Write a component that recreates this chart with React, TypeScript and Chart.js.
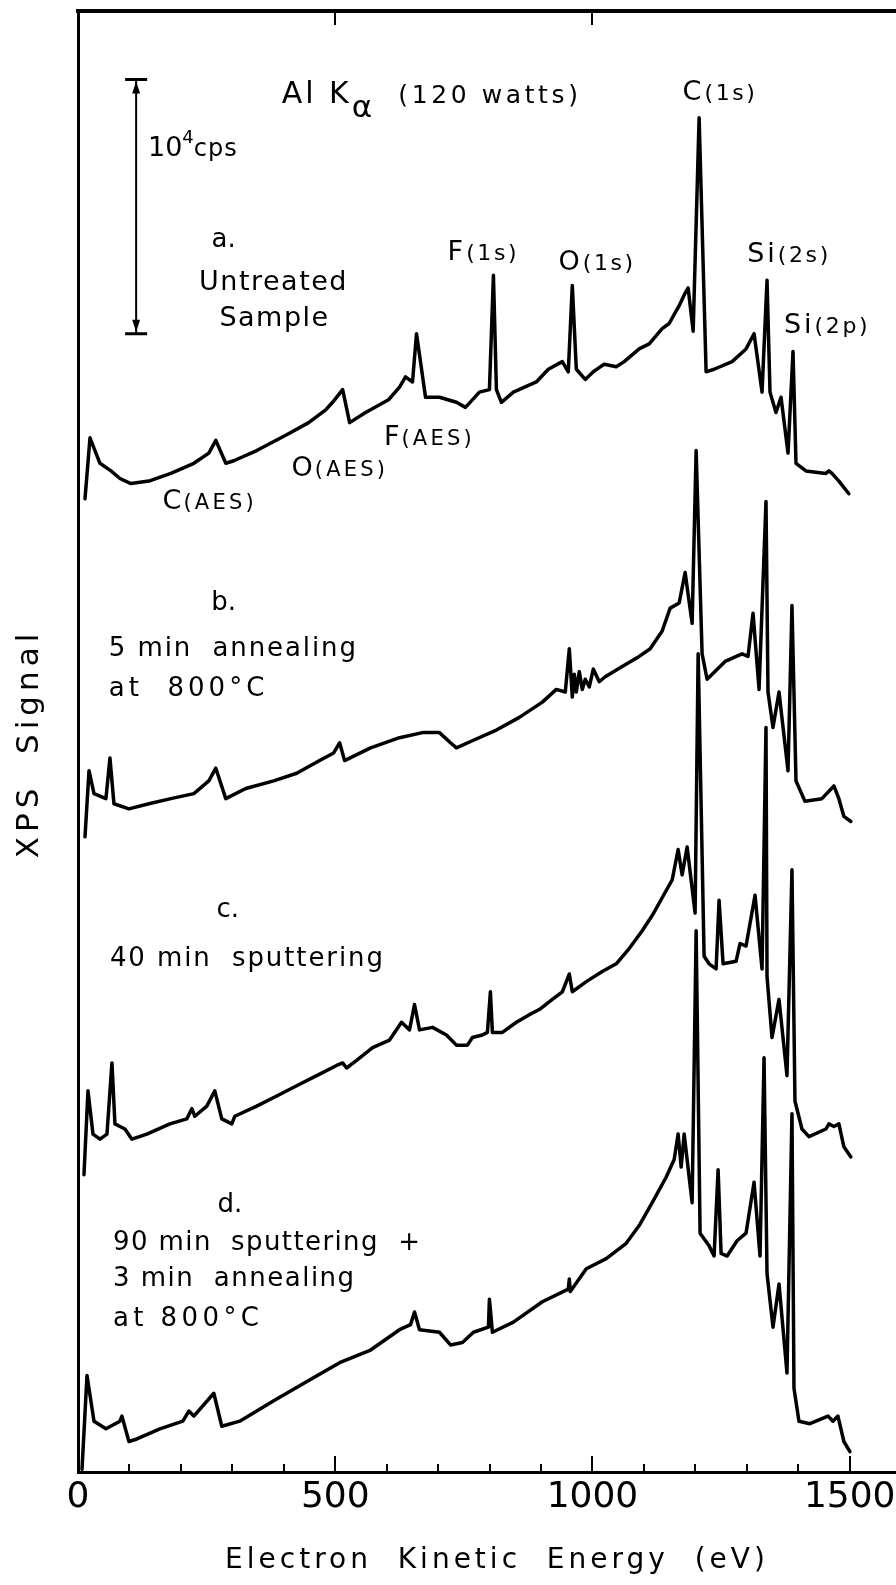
import { useEffect, useRef } from 'react';
import { Chart, registerables } from 'chart.js';

Chart.register(...registerables);

const FONT = '"DejaVu Sans", "Liberation Sans", sans-serif';

// Electron kinetic energy (eV) vs XPS signal (10^3 cps, spectra shown stacked)
const spectrumA: [number, number][] = [
  [13.6, 38.3], [23.3, 40.7], [42.7, 39.7], [64.1, 39.4], [81.5, 39.1], [102.9, 38.9], [137.8, 39.0],
  [180.5, 39.3], [225.2, 39.7], [254.3, 40.1], [267.9, 40.6], [287.3, 39.7], [302.8, 39.8], [347.4, 40.2],
  [403.7, 40.8], [448.4, 41.3], [481.4, 41.8], [494.9, 42.1], [514.4, 42.6], [528.0, 41.3], [559.0, 41.7],
  [603.6, 42.2], [625.0, 42.7], [636.6, 43.1], [650.2, 42.9], [658.0, 44.8], [675.5, 42.3], [702.6, 42.3],
  [735.6, 42.1], [753.1, 41.9], [780.3, 42.5], [799.7, 42.6], [807.5, 47.1], [813.3, 42.6], [823.0, 42.1],
  [846.3, 42.5], [890.9, 42.9], [914.2, 43.4], [941.4, 43.7], [953.0, 43.3], [960.8, 46.7], [968.6, 43.4],
  [986.0, 43.0], [1001.6, 43.3], [1022.9, 43.6], [1046.2, 43.5], [1061.7, 43.7], [1090.8, 44.2], [1110.3, 44.4],
  [1135.5, 45.0], [1149.1, 45.2], [1162.7, 45.7], [1168.5, 45.9], [1180.1, 46.4], [1186.0, 46.6], [1195.7, 44.9],
  [1207.3, 53.3], [1220.9, 43.3], [1236.4, 43.4], [1271.4, 43.7], [1298.5, 44.2], [1314.1, 44.8], [1329.6, 42.5],
  [1339.3, 46.9], [1345.1, 42.5], [1356.7, 41.7], [1366.5, 42.3], [1380.1, 40.1], [1389.8, 44.1], [1395.6, 39.7],
  [1415.0, 39.4], [1453.8, 39.3], [1459.6, 39.4], [1465.5, 39.3], [1479.0, 39.0], [1498.4, 38.5],
];

const spectrumB: [number, number][] = [
  [13.6, 25.0], [21.4, 27.6], [31.1, 26.7], [54.3, 26.5], [62.1, 28.1], [69.9, 26.3], [99.0, 26.1],
  [137.8, 26.3], [180.5, 26.5], [225.2, 26.7], [254.3, 27.2], [267.9, 27.7], [287.3, 26.5], [326.1, 26.9],
  [380.4, 27.2], [425.1, 27.5], [469.7, 28.0], [496.9, 28.3], [508.5, 28.7], [518.2, 28.0], [568.7, 28.5],
  [625.0, 28.9], [669.6, 29.1], [702.6, 29.1], [724.0, 28.7], [735.6, 28.5], [768.6, 28.8], [813.3, 29.2],
  [857.9, 29.7], [902.6, 30.3], [929.7, 30.8], [947.2, 30.7], [955.0, 32.4], [960.8, 30.5], [964.7, 31.4],
  [968.6, 30.7], [974.4, 31.5], [980.2, 30.8], [986.0, 31.2], [993.8, 30.9], [1001.6, 31.6], [1013.2, 31.1],
  [1024.8, 31.3], [1057.8, 31.7], [1090.8, 32.1], [1112.2, 32.4], [1135.5, 33.1], [1151.0, 34.0], [1168.5, 34.2],
  [1180.1, 35.4], [1193.7, 33.4], [1201.5, 40.2], [1213.1, 32.2], [1222.8, 31.2], [1257.8, 31.9], [1290.8, 32.2],
  [1302.4, 32.1], [1312.1, 33.8], [1323.8, 30.8], [1337.3, 38.2], [1341.2, 30.7], [1350.9, 29.3], [1362.6, 30.7],
  [1380.1, 27.6], [1387.8, 34.1], [1395.6, 27.2], [1413.0, 26.4], [1446.0, 26.5], [1469.3, 27.0], [1479.0, 26.5],
  [1488.7, 25.8], [1502.3, 25.6],
];

const spectrumC: [number, number][] = [
  [11.6, 11.7], [19.4, 15.0], [29.1, 13.3], [42.7, 13.1], [56.3, 13.3], [66.0, 16.1], [71.8, 13.7],
  [81.5, 13.6], [91.2, 13.5], [104.8, 13.1], [133.9, 13.3], [178.6, 13.7], [211.6, 13.9], [221.3, 14.3],
  [227.1, 14.0], [250.4, 14.4], [265.9, 15.0], [279.5, 13.9], [298.9, 13.7], [304.7, 14.0], [347.4, 14.4],
  [386.3, 14.8], [425.1, 15.2], [463.9, 15.6], [502.7, 16.0], [514.4, 16.1], [522.1, 15.9], [541.5, 16.2],
  [572.6, 16.7], [605.6, 17.0], [628.9, 17.7], [644.4, 17.4], [654.1, 18.4], [663.8, 17.4], [689.1, 17.5],
  [716.2, 17.2], [735.6, 16.8], [757.0, 16.8], [766.7, 17.1], [786.1, 17.2], [795.8, 17.3], [801.6, 18.9],
  [805.5, 17.3], [824.9, 17.3], [852.1, 17.7], [877.3, 18.0], [896.7, 18.2], [922.0, 18.6], [941.4, 18.9],
  [955.0, 19.6], [960.8, 18.9], [988.0, 19.3], [1019.0, 19.7], [1046.2, 20.0], [1071.4, 20.6], [1096.7, 21.3],
  [1116.1, 21.9], [1135.5, 22.6], [1154.9, 23.3], [1166.5, 24.5], [1174.3, 23.5], [1184.0, 24.6], [1199.5, 22.0],
  [1205.4, 32.2], [1217.0, 20.3], [1226.7, 20.0], [1240.3, 19.8], [1246.1, 22.5], [1253.9, 20.0], [1279.1, 20.1],
  [1286.9, 20.8], [1298.5, 20.7], [1316.0, 22.7], [1329.6, 19.8], [1337.3, 29.3], [1339.3, 19.5], [1349.0, 17.1],
  [1362.6, 18.6], [1378.1, 15.6], [1387.8, 23.7], [1393.6, 14.6], [1407.2, 13.5], [1420.8, 13.2], [1453.8, 13.5],
  [1459.6, 13.7], [1469.3, 13.6], [1479.0, 13.7], [1488.7, 12.8], [1502.3, 12.4],
];

const spectrumD: [number, number][] = [
  [7.8, 0.1], [17.5, 3.8], [31.1, 2.0], [54.3, 1.7], [81.5, 2.0], [85.4, 2.2], [99.0, 1.2], [114.5, 1.3],
  [159.2, 1.7], [203.8, 2.0], [215.5, 2.4], [225.2, 2.2], [264.0, 3.1], [279.5, 1.8], [314.4, 2.0], [380.4, 2.8],
  [448.4, 3.6], [508.5, 4.3], [568.7, 4.8], [625.0, 5.6], [646.4, 5.8], [654.1, 6.3], [663.8, 5.6], [702.6, 5.5],
  [724.0, 5.0], [747.3, 5.1], [768.6, 5.5], [797.8, 5.7], [799.7, 6.8], [805.5, 5.5], [846.3, 5.9], [902.6, 6.7],
  [953.0, 7.2], [955.0, 7.6], [956.9, 7.1], [988.0, 8.0], [1026.8, 8.4], [1065.6, 9.0], [1090.8, 9.7],
  [1116.1, 10.6], [1143.2, 11.6], [1158.8, 12.3], [1166.5, 13.3], [1172.4, 12.0], [1178.2, 13.3], [1193.7, 10.6],
  [1201.5, 21.3], [1209.2, 9.4], [1226.7, 8.9], [1236.4, 8.5], [1244.2, 11.9], [1250.0, 8.6], [1261.7, 8.5],
  [1281.1, 9.1], [1298.5, 9.4], [1314.1, 11.4], [1325.7, 8.5], [1333.5, 16.3], [1339.3, 7.8], [1350.9, 5.7],
  [1362.6, 7.4], [1378.1, 3.9], [1387.8, 14.1], [1391.7, 3.3], [1401.4, 2.0], [1422.7, 1.9], [1457.7, 2.2],
  [1467.4, 2.0], [1477.1, 2.2], [1488.7, 1.2], [1500.4, 0.8],
];

// axis settings
const xMin = 0;
const xMax = 1590;
const xTickValues = [0, 100, 200, 300, 400, 500, 600, 700, 800, 900, 1000, 1100, 1200, 1300, 1400, 1500];
const xLabelledTicks = [0, 500, 1000, 1500];
const topTickValues = [500, 1000];
const yMin = 0;
const yMax = 57.5;

// scale bar: 10^4 cps drawn at this energy, from / to signal values
const scaleBar = { energy: 113, from: 44.8, to: 54.8 };

type Part = { t: string; s: number; dy?: number; ls?: number };
type Note = { x: number; y: number; align: 'left' | 'center'; parts: Part[] };

const peak = (big: string, small: string): Part[] => [
  { t: big, s: 27, ls: 3 },
  { t: small, s: 22, ls: 2.6 },
];
const aes = (big: string): Part[] => [
  { t: big, s: 27, ls: 2 },
  { t: '(AES)', s: 21, ls: 3.2 },
];

// text annotations anchored in data space (eV, 10^3 cps)
const notes: Note[] = [
  { x: 396, y: 54.3, align: 'left', parts: [{ t: 'Al K', s: 30, ls: 3 }, { t: 'α', s: 31, dy: 14, ls: 3 }, { t: '  (120 watts)', s: 25, ls: 3.6 }] },
  { x: 136, y: 52.2, align: 'left', parts: [{ t: '10', s: 27 }, { t: '4', s: 18, dy: -13 }, { t: 'cps', s: 24, ls: 1 }] },
  { x: 1248, y: 54.4, align: 'center', parts: peak('C', '(1s)') },
  { x: 283, y: 48.6, align: 'center', parts: [{ t: 'a.', s: 26 }] },
  { x: 380, y: 46.9, align: 'center', parts: [{ t: 'Untreated', s: 27, ls: 1.5 }] },
  { x: 382, y: 45.5, align: 'center', parts: [{ t: 'Sample', s: 27, ls: 1.5 }] },
  { x: 788, y: 48.1, align: 'center', parts: peak('F', '(1s)') },
  { x: 1009, y: 47.7, align: 'center', parts: peak('O', '(1s)') },
  { x: 1382, y: 48.0, align: 'center', parts: peak('Si', '(2s)') },
  { x: 1456, y: 45.2, align: 'center', parts: peak('Si', '(2p)') },
  { x: 683, y: 40.8, align: 'center', parts: aes('F') },
  { x: 509, y: 39.6, align: 'center', parts: aes('O') },
  { x: 256, y: 38.3, align: 'center', parts: aes('C') },
  { x: 283, y: 34.3, align: 'center', parts: [{ t: 'b.', s: 26 }] },
  { x: 60, y: 32.5, align: 'left', parts: [{ t: '5 min  annealing', s: 26, ls: 1.9 }] },
  { x: 60, y: 30.9, align: 'left', parts: [{ t: 'at  800°C', s: 26, ls: 4 }] },
  { x: 291, y: 22.2, align: 'center', parts: [{ t: 'c.', s: 26 }] },
  { x: 62, y: 20.3, align: 'left', parts: [{ t: '40 min  sputtering', s: 26, ls: 1.9 }] },
  { x: 295, y: 10.6, align: 'center', parts: [{ t: 'd.', s: 26 }] },
  { x: 68, y: 9.1, align: 'left', parts: [{ t: '90 min  sputtering  +', s: 26, ls: 1.4 }] },
  { x: 68, y: 7.7, align: 'left', parts: [{ t: '3 min  annealing', s: 26, ls: 1.5 }] },
  { x: 68, y: 6.1, align: 'left', parts: [{ t: 'at 800°C', s: 26, ls: 4.4 }] },
];

const xTitle = 'Electron  Kinetic  Energy  (eV)';
const yTitle = 'XPS  Signal';

function drawParts(ctx: CanvasRenderingContext2D, parts: Part[], x: number, yCenter: number, align: 'left' | 'center') {
  const widths = parts.map((p) => {
    ctx.font = `${p.s}px ${FONT}`;
    (ctx as any).letterSpacing = `${p.ls ?? 0}px`;
    return ctx.measureText(p.t).width;
  });
  const total = widths.reduce((a, b) => a + b, 0);
  let cx = align === 'center' ? x - total / 2 : x;
  const baseline = yCenter + 0.365 * parts[0].s;
  ctx.textAlign = 'left';
  ctx.textBaseline = 'alphabetic';
  parts.forEach((p, i) => {
    ctx.font = `${p.s}px ${FONT}`;
    (ctx as any).letterSpacing = `${p.ls ?? 0}px`;
    ctx.fillText(p.t, cx, baseline + (p.dy ?? 0));
    cx += widths[i];
  });
  (ctx as any).letterSpacing = '0px';
}

const decorPlugin = {
  id: 'decor',
  afterDraw(chart: any) {
    const { ctx, chartArea, scales } = chart;
    const xs = scales.x;
    const ys = scales.y;
    const xt = scales.x2;
    ctx.save();
    ctx.strokeStyle = '#000';
    ctx.fillStyle = '#000';
    ctx.lineCap = 'butt';

    // inward tick marks on the bottom axis
    ctx.lineWidth = 2;
    xs.ticks.forEach((t: any) => {
      const v = t.value;
      const px = Math.round(xs.getPixelForValue(v));
      const len = xLabelledTicks.includes(v) ? 16 : 8;
      ctx.beginPath();
      ctx.moveTo(px, chartArea.bottom);
      ctx.lineTo(px, chartArea.bottom - len);
      ctx.stroke();
    });
    // inward tick marks on the top border
    topTickValues.forEach((v) => {
      const px = Math.round(xt.getPixelForValue(v));
      ctx.beginPath();
      ctx.moveTo(px, chartArea.top);
      ctx.lineTo(px, chartArea.top + 14);
      ctx.stroke();
    });

    // 10^4 cps scale bar
    const bx = xs.getPixelForValue(scaleBar.energy);
    const bTop = ys.getPixelForValue(scaleBar.to);
    const bBot = ys.getPixelForValue(scaleBar.from);
    ctx.lineWidth = 2;
    ctx.beginPath();
    ctx.moveTo(bx, bTop);
    ctx.lineTo(bx, bBot);
    ctx.stroke();
    ctx.lineWidth = 3;
    ctx.beginPath();
    ctx.moveTo(bx - 11, bTop);
    ctx.lineTo(bx + 11, bTop);
    ctx.moveTo(bx - 11, bBot);
    ctx.lineTo(bx + 11, bBot);
    ctx.stroke();
    ctx.beginPath();
    ctx.moveTo(bx, bTop + 2);
    ctx.lineTo(bx - 4, bTop + 14);
    ctx.lineTo(bx + 4, bTop + 14);
    ctx.closePath();
    ctx.moveTo(bx, bBot - 2);
    ctx.lineTo(bx - 4, bBot - 14);
    ctx.lineTo(bx + 4, bBot - 14);
    ctx.closePath();
    ctx.fill();

    // annotations
    notes.forEach((n) => {
      drawParts(ctx, n.parts, xs.getPixelForValue(n.x), ys.getPixelForValue(n.y), n.align);
    });

    // axis titles
    ctx.font = `28px ${FONT}`;
    (ctx as any).letterSpacing = '4px';
    ctx.textAlign = 'center';
    ctx.textBaseline = 'alphabetic';
    ctx.fillText(xTitle, chartArea.left + 419, chartArea.bottom + 96);

    ctx.save();
    ctx.translate(chartArea.left - 51, (chartArea.top + chartArea.bottom) / 2 + 2);
    ctx.rotate(-Math.PI / 2);
    ctx.font = `31px ${FONT}`;
    (ctx as any).letterSpacing = '5px';
    ctx.textAlign = 'center';
    ctx.textBaseline = 'alphabetic';
    ctx.fillText(yTitle, 0, 11);
    ctx.restore();

    (ctx as any).letterSpacing = '0px';
    ctx.restore();
  },
};

export default function App() {
  const ref = useRef<HTMLCanvasElement>(null);

  useEffect(() => {
    document.body.style.margin = '0';
    const canvas = ref.current;
    if (!canvas) return;
    const toPts = (arr: [number, number][]) => arr.map(([x, y]) => ({ x, y }));
    const ds = (label: string, arr: [number, number][]) => ({
      label,
      data: toPts(arr),
      borderColor: '#000',
      borderWidth: 3.5,
      pointRadius: 0,
      tension: 0,
      fill: false,
      borderJoinStyle: 'round' as const,
      borderCapStyle: 'round' as const,
      clip: false as any,
    });

    const chart = new Chart(canvas, {
      type: 'line',
      data: {
        datasets: [
          ds('a. Untreated Sample', spectrumA),
          ds('b. 5 min annealing at 800°C', spectrumB),
          ds('c. 40 min sputtering', spectrumC),
          ds('d. 90 min sputtering + 3 min annealing at 800°C', spectrumD),
        ],
      },
      options: {
        animation: false,
        responsive: false,
        devicePixelRatio: 1,
        layout: { padding: 0 },
        plugins: { legend: { display: false }, tooltip: { enabled: false } },
        scales: {
          x: {
            type: 'linear',
            position: 'bottom',
            min: xMin,
            max: xMax,
            grid: { display: false },
            border: { display: true, color: '#000', width: 3 },
            afterBuildTicks: (s: any) => {
              s.ticks = xTickValues.map((v) => ({ value: v }));
            },
            ticks: {
              autoSkip: false,
              maxRotation: 0,
              padding: -4,
              color: '#000',
              font: { family: FONT, size: 36 },
              callback: (v: any) => (xLabelledTicks.includes(Number(v)) ? String(v) : ''),
            },
            afterFit: (s: any) => {
              s.height = 113;
              s.paddingLeft = 0;
              s.paddingRight = 0;
            },
          },
          x2: {
            type: 'linear',
            position: 'top',
            min: xMin,
            max: xMax,
            grid: { display: false },
            border: { display: true, color: '#000', width: 4 },
            ticks: { display: false },
            afterFit: (s: any) => {
              s.height = 11;
              s.paddingLeft = 0;
              s.paddingRight = 0;
            },
          },
          y: {
            type: 'linear',
            position: 'left',
            min: yMin,
            max: yMax,
            grid: { display: false },
            border: { display: true, color: '#000', width: 3 },
            ticks: { display: false },
            afterFit: (s: any) => {
              s.width = 78;
              s.paddingTop = 0;
              s.paddingBottom = 0;
            },
          },
        },
      } as any,
      plugins: [decorPlugin],
    });

    return () => chart.destroy();
  }, []);

  return <canvas ref={ref} width={896} height={1585} style={{ display: 'block' }} />;
}
